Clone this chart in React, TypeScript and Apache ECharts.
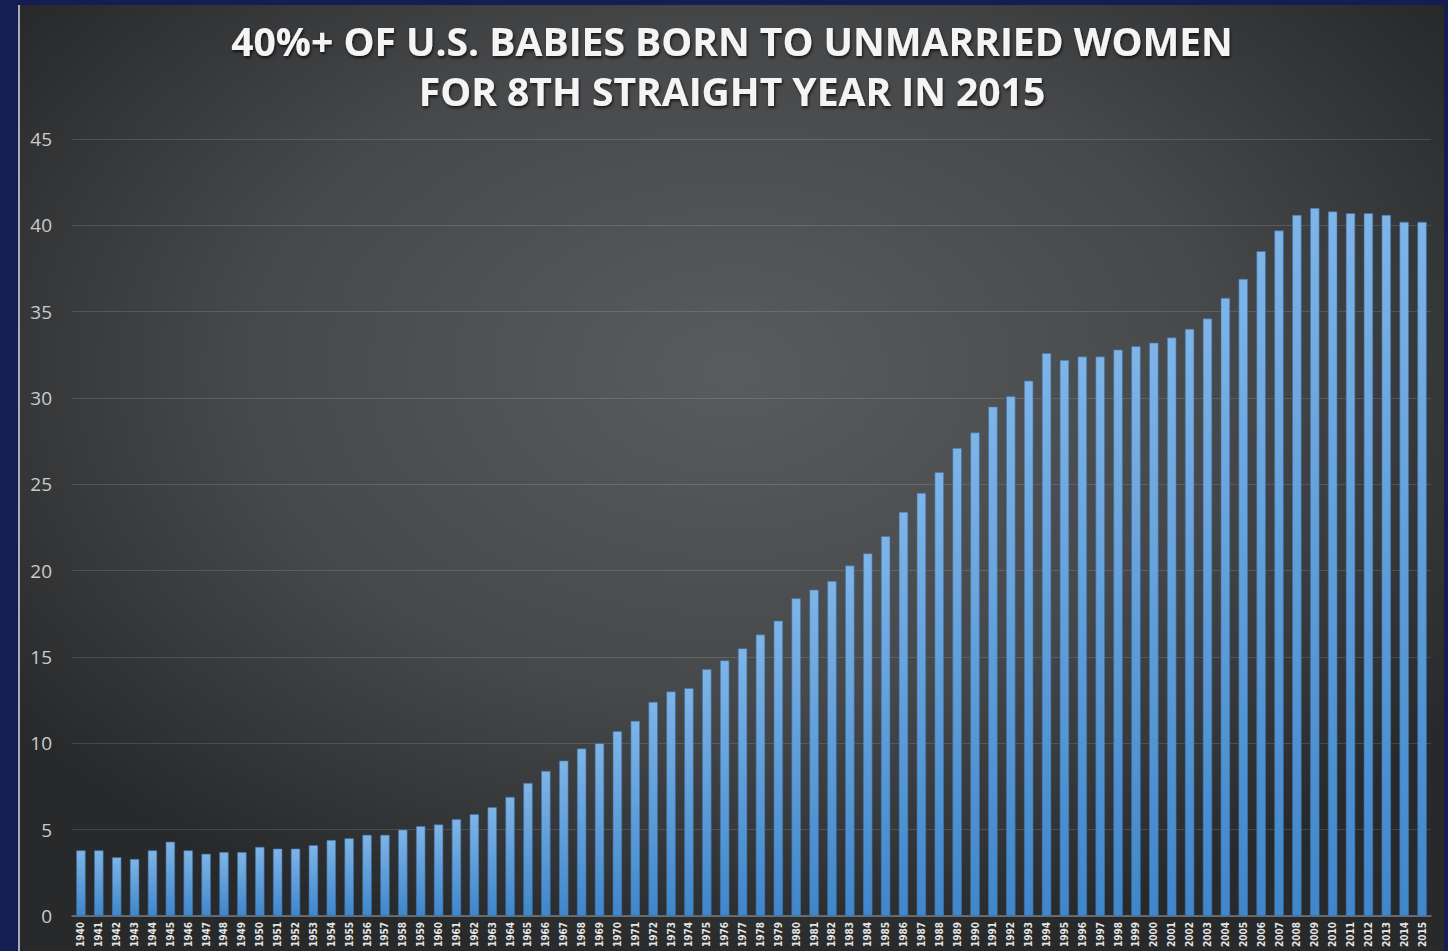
import React, { useEffect, useRef } from "react";
import * as echarts from "echarts";

const years: string[] = [
  "1940","1941","1942","1943","1944","1945","1946","1947","1948","1949",
  "1950","1951","1952","1953","1954","1955","1956","1957","1958","1959",
  "1960","1961","1962","1963","1964","1965","1966","1967","1968","1969",
  "1970","1971","1972","1973","1974","1975","1976","1977","1978","1979",
  "1980","1981","1982","1983","1984","1985","1986","1987","1988","1989",
  "1990","1991","1992","1993","1994","1995","1996","1997","1998","1999",
  "2000","2001","2002","2003","2004","2005","2006","2007","2008","2009",
  "2010","2011","2012","2013","2014","2015",
];

const unmarriedShare: number[] = [
  3.8, 3.8, 3.4, 3.3, 3.8, 4.3, 3.8, 3.6, 3.7, 3.7,
  4.0, 3.9, 3.9, 4.1, 4.4, 4.5, 4.7, 4.7, 5.0, 5.2,
  5.3, 5.6, 5.9, 6.3, 6.9, 7.7, 8.4, 9.0, 9.7, 10.0,
  10.7, 11.3, 12.4, 13.0, 13.2, 14.3, 14.8, 15.5, 16.3, 17.1,
  18.4, 18.9, 19.4, 20.3, 21.0, 22.0, 23.4, 24.5, 25.7, 27.1,
  28.0, 29.5, 30.1, 31.0, 32.6, 32.2, 32.4, 32.4, 32.8, 33.0,
  33.2, 33.5, 34.0, 34.6, 35.8, 36.9, 38.5, 39.7, 40.6, 41.0,
  40.8, 40.7, 40.7, 40.6, 40.2, 40.2,
];

const titleLines: string[] = [
  "40%+ OF U.S. BABIES BORN TO UNMARRIED WOMEN",
  "FOR 8TH STRAIGHT YEAR IN 2015",
];

const yMin = 0;
const yMax = 45;
const yStep = 5;

export default function App() {
  const ref = useRef<HTMLDivElement>(null);

  useEffect(() => {
    if (!ref.current) return;
    const chart = echarts.init(ref.current, null, { renderer: "svg" });
    const titleStyle = {
      fill: "#f4f4f4",
      font: "bold 39px 'Open Sans', sans-serif",
      textAlign: "center",
      textVerticalAlign: "top",
      textShadowColor: "rgba(0,0,0,0.7)",
      textShadowBlur: 3,
      textShadowOffsetX: 1,
      textShadowOffsetY: 2,
    };
    chart.setOption({
      animation: false,
      backgroundColor: "#141e52",
      graphic: [
        {
          type: "rect",
          z: -10,
          silent: true,
          shape: { x: 19, y: 5, width: 1425, height: 960 },
          style: {
            fill: {
              type: "radial",
              x: 0.5,
              y: 0.38,
              r: 0.62,
              colorStops: [
                { offset: 0, color: "#5a5b5d" },
                { offset: 0.55, color: "#47484a" },
                { offset: 1, color: "#28292b" },
              ],
            },
          },
        },
        {
          type: "rect",
          z: -9,
          silent: true,
          shape: { x: 18, y: 5, width: 2, height: 960 },
          style: { fill: "#a9acb5" },
        },
        {
          type: "text",
          x: 732,
          y: 21,
          style: { ...titleStyle, text: titleLines[0] },
        },
        {
          type: "text",
          x: 732,
          y: 71,
          style: { ...titleStyle, text: titleLines[1] },
        },
      ],
      grid: { left: 72, right: 17, top: 139, bottom: 35 },
      xAxis: {
        type: "category",
        data: years,
        axisLine: { show: true, lineStyle: { color: "#7a7b7d", width: 1.5 } },
        axisTick: { show: false },
        axisLabel: {
          interval: 0,
          rotate: 90,
          color: "#e4e4e4",
          fontSize: 10,
          fontWeight: "bold",
          fontFamily: "'Liberation Sans Narrow', 'DejaVu Sans Condensed', sans-serif",
          margin: 6,
        },
      },
      yAxis: {
        type: "value",
        min: yMin,
        max: yMax,
        interval: yStep,
        axisLine: { show: false },
        axisTick: { show: false },
        splitLine: { lineStyle: { color: "rgba(255,255,255,0.13)", width: 1 } },
        axisLabel: {
          color: "#cbcbcb",
          fontSize: 19,
          fontFamily: "'Open Sans', sans-serif",
          margin: 20,
        },
      },
      series: [
        {
          type: "bar",
          data: unmarriedShare,
          barWidth: "52%",
          itemStyle: {
            color: {
              type: "linear",
              x: 0,
              y: 0,
              x2: 0,
              y2: 1,
              colorStops: [
                { offset: 0, color: "#7fb4e6" },
                { offset: 1, color: "#3f86cb" },
              ],
            },
            borderColor: "#3c73ad",
            borderWidth: 0.6,
          },
        },
      ],
    });
    return () => chart.dispose();
  }, []);

  return (
    <div
      ref={ref}
      style={{ position: "fixed", left: 0, top: 0, width: 1448, height: 951 }}
    />
  );
}
